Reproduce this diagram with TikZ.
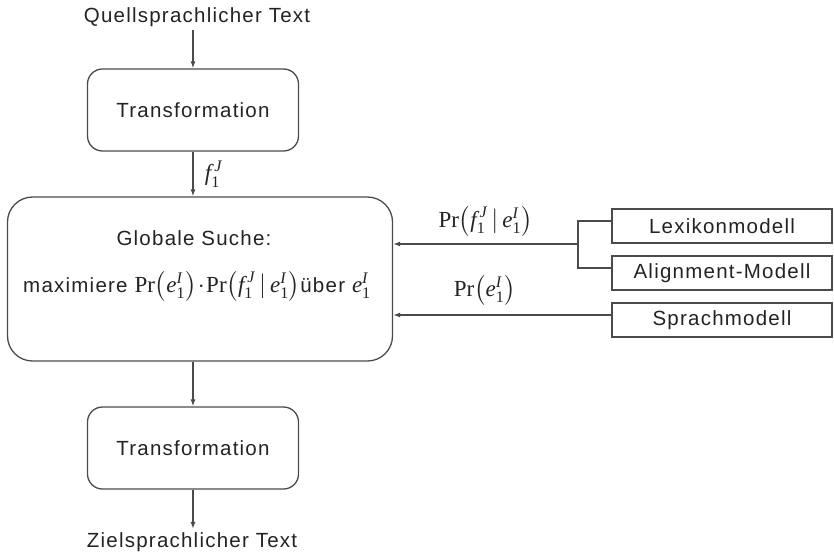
\documentclass[tikz,border=0pt]{standalone}
\usepackage{fontspec}
\usepackage{amsmath}
\usepackage{xcolor}
\usetikzlibrary{arrows.meta,positioning}
\setmainfont{Liberation Sans}[LetterSpace=6]
\newfontfamily\mathserif{Liberation Serif}
\definecolor{linegray}{RGB}{75,75,75}
\definecolor{ink}{RGB}{35,35,35}
\newcommand{\mi}[1]{\text{\mathserif\itshape #1}}
\newcommand{\one}{\text{\mathserif 1}}
\newcommand{\eI}{\mi{e}_{\one}^{\mi{I}}}
\newcommand{\fJ}{\mi{f}_{\one}^{\,\mi{J}}}
\newcommand{\prb}[1]{\text{\mathserif Pr}\bigl(#1\bigr)}
\newcommand{\mathbig}{\fontsize{23}{27}\selectfont}
\tikzset{
  stage/.style={draw=linegray, line width=1.3pt, rounded corners=15pt, minimum width=211pt, minimum height=82pt, text=ink},
  model/.style={draw=linegray, line width=1.3pt, minimum width=220pt, minimum height=34pt, text=ink},
  flow/.style={draw=linegray, line width=1.3pt, -{Latex[length=7pt,width=5pt]}},
  link/.style={draw=linegray, line width=1.1pt}
}

\begin{document}
\begin{tikzpicture}[x=1pt, y=-1pt, font=\fontsize{20.5}{24}\selectfont]
  \useasboundingbox (0,0) rectangle (834,557);
  % Eingabe und Ausgabe
  \node[text=ink] (quelle) at (197,17) {Quellsprachlicher Text};
  \node[stage] (trans1) at (193,110) {Transformation};
  \node[draw=linegray, line width=1.3pt, rounded corners=25pt, minimum width=385pt, minimum height=164pt] (suche) at (200,279) {};
  \node[text=ink, inner sep=0pt] (suchetitel) at (194,238) {Globale Suche:};
  \node[text=ink, inner sep=0pt] (maxi) at (197,286) {maximiere {\mathbig$\prb{\eI}\!\cdot\!\prb{\fJ \,|\, \eI}$}über {\mathbig$\eI$}};
  \node[stage] (trans2) at (193,448) {Transformation};
  \node[text=ink] (ziel) at (192,542) {Zielsprachlicher Text};
  % Modelle
  \node[model] (lexikon) at (722,226) {Lexikonmodell};
  \node[model] (alignment) at (722,273) {Alignment-Modell};
  \node[model] (sprache) at (722,320) {Sprachmodell};
  \coordinate (knoten) at (578,244);

  \draw[flow] (quelle.south -| trans1) -- (trans1);
  \draw[flow] (trans1) -- (trans1 |- suche.north) node[midway, right=8pt, text=ink, font=\mathbig] (fJ) {$\fJ$};
  \draw[flow] (suche.south -| trans2) -- (trans2);
  \draw[flow] (trans2) -- (trans2 |- ziel.north);

  \draw[link] ([yshift=5pt]lexikon.west) -| (knoten);
  \draw[link] ([yshift=5pt]alignment.west) -| (knoten);
  \draw[flow] (knoten) -- (knoten -| suche.east) node[pos=0.5, above=4pt, text=ink, font=\mathbig] (ptrans) {$\prb{\fJ \,|\, \eI}$};
  \draw[flow] ([yshift=5pt]sprache.west) -- ([yshift=5pt]sprache.west -| suche.east) node[pos=0.58, above=6pt, text=ink, font=\mathbig] (plm) {$\prb{\eI}$};
\end{tikzpicture}
\end{document}
